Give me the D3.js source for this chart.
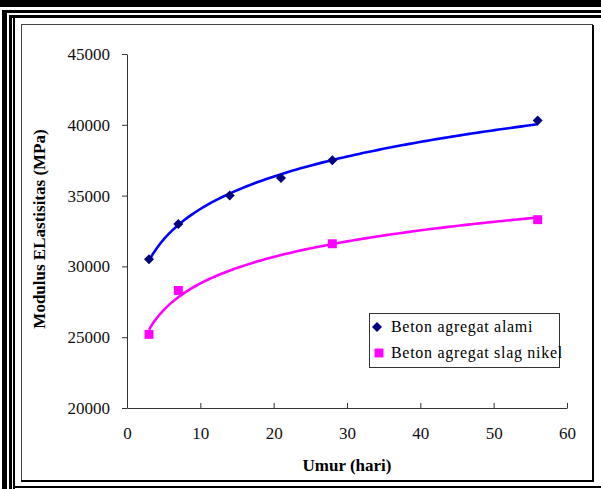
<!DOCTYPE html>
<html><head><meta charset="utf-8">
<script src="https://cdn.jsdelivr.net/npm/d3@7/dist/d3.min.js"></script>
<style>body{margin:0;background:#fff}svg{display:block}
svg text{font-family:"Liberation Serif","Times New Roman","DejaVu Serif",serif !important}</style>
</head><body>
<svg id="c" width="601" height="489"></svg>
<script>
const daysAlami = [3, 7, 14, 21, 28, 56];
const valuesAlami = [30500, 33000, 35000, 36250, 37500, 40300];
const daysSlag = [3, 7, 28, 56];
const valuesSlag = [25200, 28300, 31600, 33300];
const seriesNames = ["Beton agregat alami", "Beton agregat slag nikel"];
const xTicks = [0, 10, 20, 30, 40, 50, 60];
const yTicks = [20000, 25000, 30000, 35000, 40000, 45000];
const xTitle = "Umur (hari)";
const yTitle = "Modulus ELastisitas (MPa)";

const svg = d3.select("#c");
const serif = '"Liberation Serif","Times New Roman",serif';

// page frame decoration
svg.append("rect").attr("x",0).attr("y",0).attr("width",601).attr("height",7).attr("fill","#000");
svg.append("rect").attr("x",2).attr("y",10).attr("width",599).attr("height",3).attr("fill","#000");
svg.append("rect").attr("x",2).attr("y",10).attr("width",5).attr("height",479).attr("fill","#000");
svg.append("rect").attr("x",9).attr("y",15).attr("width",592).attr("height",3).attr("fill","#000");
svg.append("rect").attr("x",9).attr("y",15).attr("width",3).attr("height",474).attr("fill","#000");
svg.append("rect").attr("x",13).attr("y",15).attr("width",2).attr("height",474).attr("fill","#000");
svg.append("rect").attr("x",15).attr("y",486).attr("width",586).attr("height",2).attr("fill","#000");

// chart border
svg.append("rect").attr("x",21.5).attr("y",24.5).attr("width",571).attr("height",456)
  .attr("fill","#fff").attr("stroke","#444").attr("stroke-width",1);
svg.append("line").attr("x1",593).attr("x2",593).attr("y1",25).attr("y2",482).attr("stroke","#000").attr("stroke-width",2);
svg.append("line").attr("x1",21).attr("x2",594).attr("y1",481).attr("y2",481).attr("stroke","#000").attr("stroke-width",2);

const x = d3.scaleLinear().domain([0,60]).range([127,567]);
const y = d3.scaleLinear().domain([20000,45000]).range([408,54]);

const xAxis = svg.append("g").attr("transform","translate(0,408)")
  .call(d3.axisBottom(x).tickValues(xTicks).tickSizeInner(-5).tickSizeOuter(0).tickPadding(19).tickFormat(d3.format("d")));
const yAxis = svg.append("g").attr("transform","translate(127,0)")
  .call(d3.axisLeft(y).tickValues(yTicks).tickSizeInner(5).tickSizeOuter(0).tickPadding(12).tickFormat(d3.format("d")));
[xAxis,yAxis].forEach(g=>{
  g.attr("font-family",serif).attr("font-size",17);
  g.select(".domain").attr("stroke","#333");
  g.selectAll(".tick line").attr("stroke","#333");
  g.selectAll("text").attr("font-family",serif).style("font-family",serif).attr("font-size",17).attr("fill","#111");
});
xAxis.selectAll(".tick text").attr("dy","0.71em");

// titles
svg.append("text").attr("x",347).attr("y",471).attr("text-anchor","middle")
  .attr("font-size",17).attr("font-weight","bold").text(xTitle);
svg.append("text").attr("transform","translate(45,229) rotate(-90)").attr("text-anchor","middle")
  .attr("font-size",17).attr("font-weight","bold").text(yTitle);

// trendlines fitted to the data points
function powerFit(xs, ys){
  const lx = xs.map(Math.log), ly = ys.map(Math.log);
  const mx = d3.mean(lx), my = d3.mean(ly);
  const b = d3.sum(lx.map((v,i)=>(v-mx)*(ly[i]-my))) / d3.sum(lx.map(v=>(v-mx)*(v-mx)));
  const a = Math.exp(my - b*mx);
  return t => a*Math.pow(t,b);
}
function logFit(xs, ys){
  const lx = xs.map(Math.log);
  const mx = d3.mean(lx), my = d3.mean(ys);
  const b = d3.sum(lx.map((v,i)=>(v-mx)*(ys[i]-my))) / d3.sum(lx.map(v=>(v-mx)*(v-mx)));
  const a = my - b*mx;
  return t => a + b*Math.log(t);
}
function trend(xs, ys, fit){
  const f = fit(xs, ys);
  const lo = d3.min(xs), hi = d3.max(xs);
  return d3.range(0,101).map(i=>{const t=lo+(hi-lo)*i/100; return [t,f(t)];});
}
const line = d3.line().x(d=>x(d[0])).y(d=>y(d[1]));
svg.append("path").attr("d",line(trend(daysAlami,valuesAlami,powerFit))).attr("fill","none").attr("stroke","#0000ff").attr("stroke-width",2.6);
svg.append("path").attr("d",line(trend(daysSlag,valuesSlag,logFit))).attr("fill","none").attr("stroke","#ff00ff").attr("stroke-width",2.6);

const diamondShape = d3.symbol().type(d3.symbolSquare).size(50);
const square = d3.symbol().type(d3.symbolSquare).size(80);
svg.selectAll(".pa").data(daysAlami).join("path").attr("class","pa")
  .attr("d",diamondShape).attr("fill","#000080")
  .attr("transform",(d,i)=>`translate(${x(d)},${y(valuesAlami[i])}) rotate(45)`);
svg.selectAll(".ps").data(daysSlag).join("path").attr("class","ps")
  .attr("transform",(d,i)=>`translate(${x(d)},${y(valuesSlag[i])})`)
  .attr("d",square).attr("fill","#ff00ff");

// legend
const lg = svg.append("g");
lg.append("rect").attr("x",369.5).attr("y",313.5).attr("width",190).attr("height",54).attr("fill","#fff").attr("stroke","#333");
lg.append("path").attr("transform","translate(377,327) rotate(45)").attr("d",diamondShape).attr("fill","#000080");
lg.append("path").attr("transform","translate(379,353)").attr("d",square).attr("fill","#ff00ff");
lg.append("text").attr("x",391).attr("y",332).attr("font-size",16).attr("letter-spacing","0.7px").text(seriesNames[0]);
lg.append("text").attr("x",391).attr("y",358).attr("font-size",16).attr("letter-spacing","0.7px").text(seriesNames[1]);
</script>
</body></html>
